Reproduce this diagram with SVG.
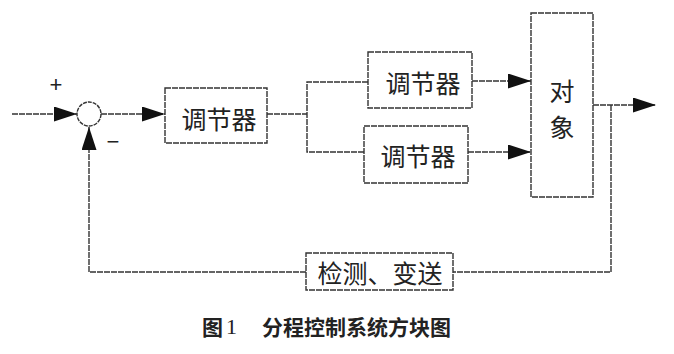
<svg xmlns="http://www.w3.org/2000/svg" width="674" height="354" viewBox="0 0 674 354">
<defs>
<marker id="arr" markerUnits="userSpaceOnUse" markerWidth="24" markerHeight="16" refX="23" refY="7.5" orient="auto">
<path d="M0,0 L23,7.5 L0,15 z" fill="#111"/>
</marker>
<style>
.box{fill:#fff;stroke:#333;stroke-width:1.4;stroke-dasharray:6 1}
.ln{fill:none;stroke:#333;stroke-width:1.4;stroke-dasharray:6 1}
.t{font-family:"Noto Sans CJK SC","Noto Sans",sans-serif;font-size:25px;fill:#222;text-anchor:middle;dominant-baseline:central}
.s{font-family:"Liberation Sans",sans-serif;font-size:22px;fill:#222;text-anchor:middle;dominant-baseline:central}
.cap{font-family:"Noto Sans CJK SC","Noto Sans",sans-serif;font-size:21px;font-weight:bold;fill:#222;dominant-baseline:central}
</style>
</defs>
<rect width="674" height="354" fill="#fff"/>
<g id="connectors">
<line class="ln" x1="12" y1="114" x2="77" y2="114" marker-end="url(#arr)"/>
<line class="ln" x1="101" y1="114" x2="165" y2="114" marker-end="url(#arr)"/>
<line class="ln" x1="267" y1="114" x2="307" y2="114"/>
<polyline class="ln" points="368,82 307,82 307,152 364,152"/>
<line class="ln" x1="472" y1="81" x2="531" y2="81" marker-end="url(#arr)"/>
<line class="ln" x1="468" y1="152" x2="531" y2="152" marker-end="url(#arr)"/>
<line class="ln" x1="593" y1="105" x2="656" y2="105" marker-end="url(#arr)"/>
<polyline class="ln" points="611,105 611,272 453,272"/>
<polyline class="ln" points="306,272 89,272 89,127" marker-end="url(#arr)"/>
</g>
<g id="sum">
<circle cx="89" cy="114" r="12" fill="#fff" stroke="#333" stroke-width="1.4" stroke-dasharray="4 1"/>
<text class="s" x="56" y="84">+</text>
<text class="s" x="113" y="141">−</text>
</g>
<g id="ctrl1">
<rect class="box" x="165" y="88" width="102" height="55"/>
<text class="t" x="219" y="118">调节器</text>
</g>
<g id="ctrl2">
<rect class="box" x="368" y="52" width="104" height="56"/>
<text class="t" x="423" y="82">调节器</text>
</g>
<g id="ctrl3">
<rect class="box" x="364" y="126" width="104" height="57"/>
<text class="t" x="418" y="155">调节器</text>
</g>
<g id="object">
<rect class="box" x="531" y="13" width="62" height="184"/>
<text class="t" x="562" y="90">对</text>
<text class="t" x="562" y="126">象</text>
</g>
<g id="sensor">
<rect class="box" x="306" y="253" width="147" height="37"/>
<text class="t" x="380" y="272">检测、变送</text>
</g>
<text class="cap" x="202" y="326">图<tspan font-family="Liberation Serif,serif" font-weight="normal" font-size="22" dx="3">1</tspan><tspan x="262">分程控制系统方块图</tspan></text>
</svg>
